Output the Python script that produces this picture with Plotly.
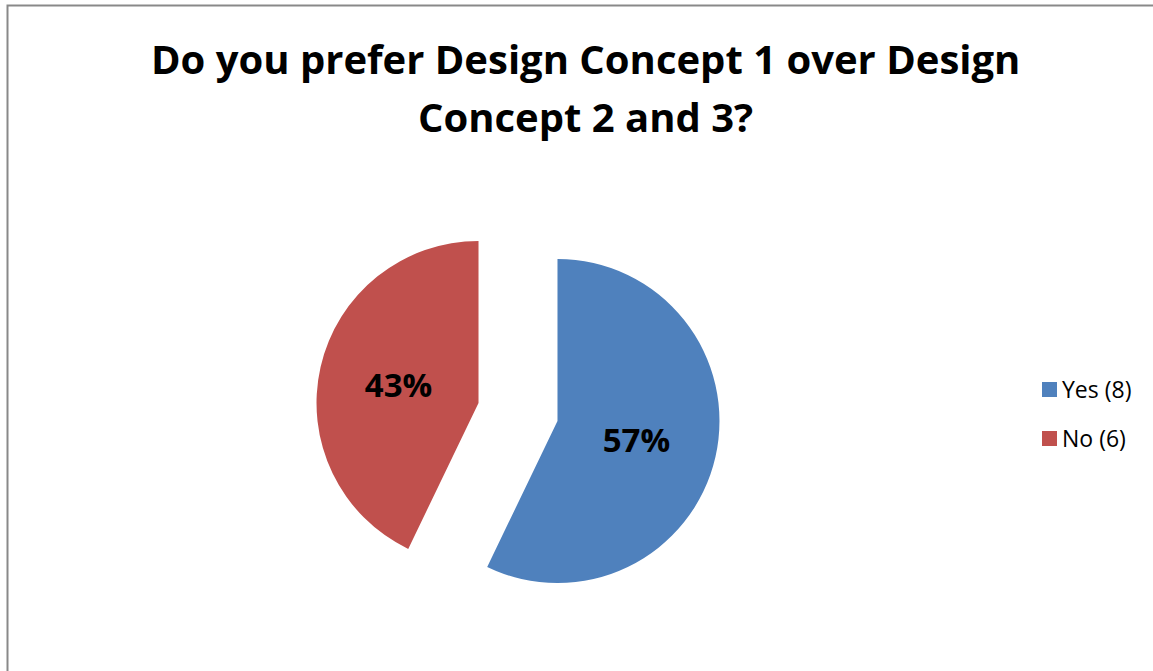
import plotly.graph_objects as go

labels = ["Yes (8)", "No (6)"]
values = [8, 6]
colors = ["#4F81BD", "#C0504D"]
title_lines = ["Do you prefer Design Concept 1 over Design", "Concept 2 and 3?"]

W, H = 1153, 671
FONT = "'Open Sans', 'Noto Sans', sans-serif"

fig = go.Figure()
fig.add_trace(go.Pie(
    labels=labels,
    values=values,
    marker=dict(colors=colors, line=dict(width=0)),
    sort=False,
    direction="clockwise",
    rotation=0,
    pull=[0.25, 0.25],
    textinfo="percent",
    texttemplate="<b>%{percent:.0%}</b>",
    textposition="inside",
    insidetextorientation="horizontal",
    textfont=dict(family=FONT, size=33, color="black"),
    domain=dict(x=[315.5 / W, 720.5 / W], y=[1 - 614.5 / H, 1 - 209.5 / H]),
    showlegend=False,
    hoverinfo="label+percent",
))

annotations = []
# title lines
title_y = [58, 117]
for line, yy in zip(title_lines, title_y):
    annotations.append(dict(
        text="<b>" + line + "</b>", x=585 / W, y=1 - yy / H, xref="paper", yref="paper",
        xanchor="center", yanchor="middle", showarrow=False,
        font=dict(family=FONT, size=40, color="black"),
    ))

shapes = [dict(type="rect", xref="paper", yref="paper",
               x0=7.5 / W, x1=1.02, y0=-0.02, y1=1 - 5.5 / H,
               line=dict(color="#898989", width=2), fillcolor="rgba(0,0,0,0)", layer="below")]

# legend
leg_y = [389, 438]
for lab, col, yy in zip(labels, colors, leg_y):
    shapes.append(dict(type="rect", xref="paper", yref="paper",
                       x0=1042 / W, x1=1057 / W, y0=1 - (yy + 8) / H, y1=1 - (yy - 7) / H,
                       fillcolor=col, line=dict(width=0)))
    annotations.append(dict(
        text=lab, x=1060 / W, y=1 - yy / H, xref="paper", yref="paper",
        xanchor="left", yanchor="middle", showarrow=False,
        font=dict(family=FONT, size=23, color="black"),
    ))

fig.update_layout(
    width=W, height=H,
    margin=dict(l=0, r=0, t=0, b=0),
    paper_bgcolor="white",
    plot_bgcolor="white",
    annotations=annotations,
    shapes=shapes,
)

fig.write_html("out.html")
